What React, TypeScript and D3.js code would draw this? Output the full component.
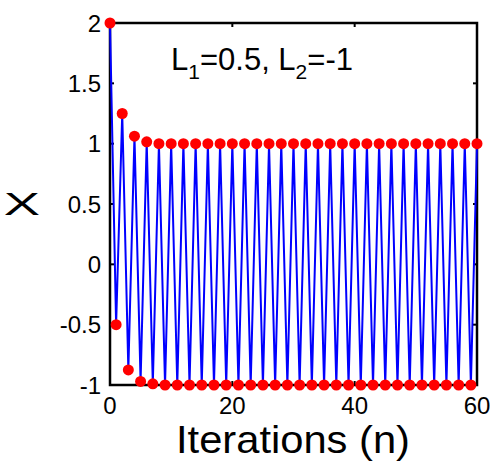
import React from "react";
import * as d3 from "d3";

const iterations: number[] = [
  0, 1, 2, 3, 4, 5, 6, 7, 8, 9, 10, 11, 12, 13, 14, 15, 16, 17, 18, 19, 20,
  21, 22, 23, 24, 25, 26, 27, 28, 29, 30, 31, 32, 33, 34, 35, 36, 37, 38, 39, 40,
  41, 42, 43, 44, 45, 46, 47, 48, 49, 50, 51, 52, 53, 54, 55, 56, 57, 58, 59, 60,
];
const xValues: number[] = [
  2, -0.5, 1.25, -0.875, 1.0625, -0.97, 1.015, -0.99, 1, -1, 1, -1, 1, -1, 1, -1, 1, -1, 1, -1, 1,
  -1, 1, -1, 1, -1, 1, -1, 1, -1, 1, -1, 1, -1, 1, -1, 1, -1, 1, -1, 1,
  -1, 1, -1, 1, -1, 1, -1, 1, -1, 1, -1, 1, -1, 1, -1, 1, -1, 1, -1, 1,
];
const xTicks: number[] = [0, 20, 40, 60];
const yTicks: number[] = [-1, -0.5, 0, 0.5, 1, 1.5, 2];
const yTickLabels: string[] = ["-1", "-0.5", "0", "0.5", "1", "1.5", "2"];

export default function App() {
  const W = 490, H = 463;
  const left = 110, right = 477, top = 23, bottom = 385;
  const x = d3.scaleLinear().domain([0, 60]).range([left, right]);
  const y = d3.scaleLinear().domain([-1, 2]).range([bottom, top]);
  const data = iterations.map((n, i) => [n, xValues[i]] as [number, number]);
  const line = d3.line<[number, number]>().x(d => x(d[0])).y(d => y(d[1]));
  const font = "'Liberation Sans', Arial, sans-serif";
  const tl = 4;
  return (
    <svg width={W} height={H} style={{ position: "absolute", left: 0, top: 0, background: "#fff" }}>
      <rect x={0} y={0} width={W} height={H} fill="#fff" />
      <rect x={left} y={top} width={right - left} height={bottom - top} fill="none" stroke="#000" strokeWidth={2.5} />
      {yTicks.map(t => (
        <g key={"y" + t}>
          <line x1={left} x2={left + tl} y1={y(t)} y2={y(t)} stroke="#000" strokeWidth={2} />
          <line x1={right} x2={right - tl} y1={y(t)} y2={y(t)} stroke="#000" strokeWidth={2} />
        </g>
      ))}
      {xTicks.map(t => (
        <g key={"x" + t}>
          <line x1={x(t)} x2={x(t)} y1={bottom} y2={bottom - tl} stroke="#000" strokeWidth={2} />
          <line x1={x(t)} x2={x(t)} y1={top} y2={top + tl} stroke="#000" strokeWidth={2} />
        </g>
      ))}
      <path d={line(data) || ""} fill="none" stroke="#0000ff" strokeWidth={2} />
      {data.map((d, i) => (
        <circle key={i} cx={x(d[0])} cy={y(d[1])} r={5.5} fill="#ff0000" />
      ))}
      {yTicks.map((t, i) => (
        <text key={"yl" + t} x={101} y={y(t)} dy="0.36em" textAnchor="end" fontFamily={font} fontSize={24} fill="#000">
          {yTickLabels[i]}
        </text>
      ))}
      {xTicks.map(t => (
        <text key={"xl" + t} x={x(t)} y={414} textAnchor="middle" fontFamily={font} fontSize={24} fill="#000">
          {String(t)}
        </text>
      ))}
      <text x={293} y={453} textAnchor="middle" fontFamily={font} fontSize={39} textLength={234} lengthAdjust="spacingAndGlyphs" fill="#000">
        Iterations (n)
      </text>
      <text transform="translate(22,215) scale(1.7,1)" textAnchor="middle" fontFamily={font} fontSize={32} fill="#000">
        X
      </text>
      <text x={171} y={70} fontFamily={font} fontSize={31} fill="#000">
        L<tspan fontSize={21} dy={9}>1</tspan>
        <tspan dy={-9}>=0.5, L</tspan>
        <tspan fontSize={21} dy={9}>2</tspan>
        <tspan dy={-9}>=-1</tspan>
      </text>
    </svg>
  );
}
